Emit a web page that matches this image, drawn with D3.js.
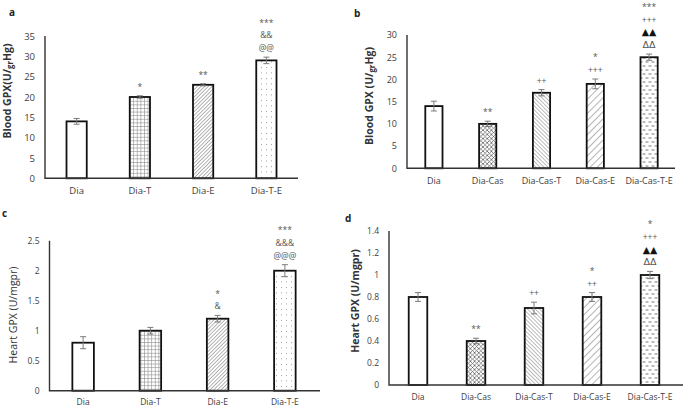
<!DOCTYPE html>
<html><head><meta charset="utf-8">
<script src="https://cdn.jsdelivr.net/npm/d3@7"></script>
<style>
html,body{margin:0;padding:0;background:#fff;}
svg{display:block;font-family:"Open Sans",sans-serif;}
</style></head>
<body>
<script>
// ---------- data ----------
const catsA = ["Dia","Dia-T","Dia-E","Dia-T-E"];
const valsA = [14,20,23,29];
const errA  = [0.7,0.3,0.25,0.8];
const annA  = [[],["*"],["**"],["@@","&&","***"]];
const ticksA = [0,5,10,15,20,25,30,35];

const catsB = ["Dia","Dia-Cas","Dia-Cas-T","Dia-Cas-E","Dia-Cas-T-E"];
const valsB = [14,10,17,19,25];
const errB  = [1.1,0.6,0.7,1.1,0.7];
const annB  = [[],["**"],["++"],["+++","*"],["ΔΔ","▲▲","+++","***"]];
const ticksB = [0,5,10,15,20,25,30];

const catsC = ["Dia","Dia-T","Dia-E","Dia-T-E"];
const valsC = [0.8,1.0,1.2,2.0];
const errC  = [0.1,0.055,0.055,0.1];
const annC  = [[],[],["&","*"],["@@@","&&&","***"]];
const ticksC = [0,0.5,1,1.5,2,2.5];

const catsD = ["Dia","Dia-Cas","Dia-Cas-T","Dia-Cas-E","Dia-Cas-T-E"];
const valsD = [0.8,0.4,0.7,0.8,1.0];
const errD  = [0.04,0.025,0.053,0.04,0.033];
const annD  = [[],["**"],["++"],["++","*"],["ΔΔ","▲▲","+++","*"]];
const ticksD = [0,0.2,0.4,0.6,0.8,1,1.2,1.4];

// ---------- svg ----------
const W = 689, H = 407;
const svg = d3.select("body").append("svg").attr("width",W).attr("height",H);
svg.append("rect").attr("width",W).attr("height",H).attr("fill","#fff");
const defs = svg.append("defs");

function pat(id,w,h,draw,transform){
  const p = defs.append("pattern").attr("id",id).attr("patternUnits","userSpaceOnUse")
    .attr("width",w).attr("height",h);
  if(transform) p.attr("patternTransform",transform);
  p.append("rect").attr("width",w).attr("height",h).attr("fill","#fff");
  draw(p);
}
pat("grid",3.6,3.6,p=>{
  p.append("path").attr("d","M0,0.3H3.6M0.3,0V3.6").attr("stroke","#8a8a8a").attr("stroke-width",0.7);
});
pat("diag",2.6,2.6,p=>{
  p.append("line").attr("x1",0).attr("y1",0).attr("x2",0).attr("y2",2.6).attr("stroke","#555").attr("stroke-width",0.9);
},"rotate(45)");
pat("dots",5,5.5,p=>{
  p.append("rect").attr("x",1).attr("y",1).attr("width",0.9).attr("height",0.9).attr("fill","#888");
});
pat("cross",4.2,4.2,p=>{
  p.append("path").attr("d","M0,0L4.2,4.2M4.2,0L0,4.2").attr("stroke","#555").attr("stroke-width",0.7);
});
pat("back",2.8,2.8,p=>{
  p.append("line").attr("x1",0).attr("y1",0).attr("x2",0).attr("y2",2.8).attr("stroke","#555").attr("stroke-width",0.8);
},"rotate(-45)");
pat("fwd",5,5,p=>{
  p.append("line").attr("x1",0).attr("y1",0).attr("x2",0).attr("y2",5).attr("stroke","#444").attr("stroke-width",0.8);
},"rotate(45)");
pat("dash",6,8,p=>{
  p.append("path").attr("d","M0.5,2H3.5M3.5,6H6.5M-2.5,6H0.5").attr("stroke","#555").attr("stroke-width",0.8);
});

const styleA = ["#fff","url(#grid)","url(#diag)","url(#dots)"];
const styleB = ["#fff","url(#cross)","url(#back)","url(#fwd)","url(#dash)"];

function panel(o){
  const g = svg.append("g");
  const x = d3.scaleBand().domain(o.cats).range(o.xr).paddingInner(0).paddingOuter(0);
  const y = d3.scaleLinear().domain(o.yd).range(o.yr);
  const fmt = t => String(+t.toFixed(1));
  // y tick labels
  const ya = d3.axisLeft(y).tickValues(o.ticks).tickFormat(fmt).tickSize(0).tickPadding(o.tp);
  const yg = g.append("g").attr("transform",`translate(${o.xr[0]},0)`).call(ya);
  yg.select(".domain").remove();
  yg.selectAll("text").attr("fill","#404040").style("font-size",o.tfs+"px").style("font-family","'Open Sans',sans-serif");
  // x labels
  const xa = d3.axisBottom(x).tickSize(0).tickPadding(o.xp);
  const xg = g.append("g").attr("transform",`translate(0,${o.yr[0]})`).call(xa);
  xg.select(".domain").remove();
  xg.selectAll("text").attr("fill","#404040").style("font-size",o.xfs+"px").style("font-family","'Open Sans',sans-serif");
  // bars
  const bw = x.step()*0.32;
  const cx = c => x(c)+x.bandwidth()/2;
  g.selectAll("rect.bar").data(o.cats).join("rect").attr("class","bar")
    .attr("x",c=>cx(c)-bw/2).attr("width",bw)
    .attr("y",(c,i)=>y(o.vals[i])).attr("height",(c,i)=>y(0)-y(o.vals[i]))
    .attr("fill",(c,i)=>o.style[i]).attr("stroke","#111").attr("stroke-width",1.8);
  // error bars
  const eg = g.selectAll("g.err").data(o.cats).join("g").attr("class","err")
    .attr("stroke","#7a7a7a").attr("stroke-width",1);
  eg.append("line").attr("x1",cx).attr("x2",cx)
    .attr("y1",(c,i)=>y(o.vals[i]-o.err[i])).attr("y2",(c,i)=>y(o.vals[i]+o.err[i]));
  eg.append("line").attr("x1",c=>cx(c)-3).attr("x2",c=>cx(c)+3)
    .attr("y1",(c,i)=>y(o.vals[i]+o.err[i])).attr("y2",(c,i)=>y(o.vals[i]+o.err[i]));
  eg.append("line").attr("x1",c=>cx(c)-3).attr("x2",c=>cx(c)+3)
    .attr("y1",(c,i)=>y(o.vals[i]-o.err[i])).attr("y2",(c,i)=>y(o.vals[i]-o.err[i]));
  // annotations
  o.cats.forEach((c,i)=>{
    const top = y(o.vals[i]+o.err[i]);
    o.ann[i].forEach((s,j)=>{
      const tri = s==="▲▲" || s==="ΔΔ";
      g.append("text").attr("x",cx(c)).attr("y",top-6-j*12.7)
        .attr("text-anchor","middle").style("font-size",(tri?9.5:8.5)+"px")
        .style("font-family", tri ? "'DejaVu Sans',sans-serif" : "'Open Sans',sans-serif")
        .attr("fill", s==="▲▲" ? "#111" : "#555").text(s);
    });
  });
  // axes lines
  g.append("path").attr("d",`M${o.xr[0]},${o.yr[1]}V${o.yr[0]}H${o.xend}`)
    .attr("fill","none").attr("stroke","#333").attr("stroke-width",1.4);
  // panel letter
  g.append("text").attr("x",o.lx).attr("y",o.ly).style("font-size","10px").style("font-weight","bold")
    .attr("fill","#222").text(o.letter);
  // y title
  const t = g.append("text").attr("transform",`translate(${o.tx},${o.ty}) rotate(-90)`)
    .attr("text-anchor","middle").style("font-size",o.tfz+"px").style("font-weight",o.tw).attr("fill","#333");
  o.title.forEach(p=>{
    const ts = t.append("tspan").text(p.t);
    if(p.sub) ts.style("font-size",(o.tfz*0.75)+"px").attr("dy",2);
    if(p.back) ts.attr("dy",-2);
  });
}

panel({cats:catsA, vals:valsA, err:errA, ann:annA, ticks:ticksA, style:styleA,
  xr:[45,298], xend:298, yd:[0,35], yr:[178.3,36], tp:10, xp:9, tfs:9.5, xfs:9.5,
  letter:"a", lx:9, ly:16, tx:11, ty:91, tfz:10.5, tw:"bold",
  title:[{t:"Blood GPX(U/"},{t:"gr",sub:true},{t:"Hg)",back:true}]});

panel({cats:catsB, vals:valsB, err:errB, ann:annB, ticks:ticksB, style:styleB,
  xr:[407,676], xend:675, yd:[0,30], yr:[168.3,35], tp:10, xp:9, tfs:9, xfs:9,
  letter:"b", lx:354, ly:17, tx:373, ty:96, tfz:10.5, tw:"bold",
  title:[{t:"Blood  GPX (U/"},{t:"gr",sub:true},{t:"Hg)",back:true}]});

panel({cats:catsC, vals:valsC, err:errC, ann:annC, ticks:ticksC, style:styleA,
  xr:[49.5,318.5], xend:320, yd:[0,2.5], yr:[390.7,240.7], tp:10, xp:8, tfs:8.5, xfs:8.5,
  letter:"c", lx:2, ly:217, tx:17, ty:315, tfz:10.5, tw:"normal",
  title:[{t:"Heart GPX (U/mgpr)"}]});

panel({cats:catsD, vals:valsD, err:errD, ann:annD, ticks:ticksD, style:styleB,
  xr:[389,679], xend:683, yd:[0,1.4], yr:[385,231], tp:10, xp:9, tfs:8.5, xfs:8.5,
  letter:"d", lx:345, ly:222, tx:359, ty:301, tfz:10.5, tw:"bold",
  title:[{t:"Heart GPX (U/mgpr)"}]});
</script>
</body></html>
